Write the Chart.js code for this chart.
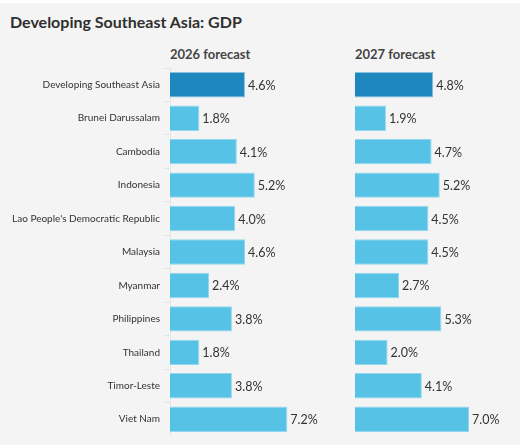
<!DOCTYPE html>
<html>
<head>
<meta charset="utf-8">
<script src="https://cdn.jsdelivr.net/npm/chart.js@4.4.1/dist/chart.umd.min.js"></script>
<style>
  html, body { margin: 0; padding: 0; }
  body { width: 520px; height: 445px; background: #f4f4f4; position: relative; overflow: hidden;
         font-family: Lato, "Open Sans", sans-serif; color: #2f2f2f; }
  #topStrip { position: absolute; left: 0; top: 0; width: 520px; height: 3px; background: #fff; }
  #title { position: absolute; left: 10px; top: 12px; font-size: 16px; font-weight: bold; white-space: nowrap; }
  .head { position: absolute; top: 46px; font-size: 13px; font-weight: bold; color: #444; white-space: nowrap; }
  canvas { position: absolute; top: 68px; }
</style>
</head>
<body>
<div id="topStrip"></div>
<div id="title">Developing Southeast Asia: GDP</div>
<div class="head" style="left:170px">2026 forecast</div>
<div class="head" style="left:355px">2027 forecast</div>
<canvas id="chart2026" width="345" height="368" style="left:0"></canvas>
<canvas id="chart2027" width="175" height="368" style="left:345px"></canvas>
<script>
const economies = [
    "Developing Southeast Asia", "Brunei Darussalam", "Cambodia", "Indonesia",
    "Lao People's Democratic Republic", "Malaysia", "Myanmar", "Philippines",
    "Thailand", "Timor-Leste", "Viet Nam"
];
const forecast2026 = [4.6, 1.8, 4.1, 5.2, 4.0, 4.6, 2.4, 3.8, 1.8, 3.8, 7.2];
const forecast2027 = [4.8, 1.9, 4.7, 5.2, 4.5, 4.5, 2.7, 5.3, 2.0, 4.1, 7.0];

const darkBlue = '#1e88be';
const lightBlue = '#55c2e6';
const barColors = economies.map((e, i) => i === 0 ? darkBlue : lightBlue);
const barBorders = economies.map((e, i) => i === 0 ? '#86c2e0' : '#93d6ee');

// draws "x.x%" just after the end of each bar
const valueLabels = {
    id: 'valueLabels',
    afterDatasetsDraw(chart) {
        const ctx = chart.ctx;
        const meta = chart.getDatasetMeta(0);
        const data = chart.data.datasets[0].data;
        ctx.save();
        ctx.font = '12.5px Lato, "Open Sans", sans-serif';
        ctx.fillStyle = '#333';
        ctx.textAlign = 'left';
        ctx.textBaseline = 'middle';
        meta.data.forEach((bar, i) => {
            ctx.fillText(data[i].toFixed(1) + '%', bar.x + 3, bar.y + 1);
        });
        ctx.restore();
    }
};

function makeChart(id, values, showLabels) {
    const ctx = document.getElementById(id).getContext('2d');
    return new Chart(ctx, {
        type: 'bar',
        data: {
            labels: economies,
            datasets: [{
                data: values,
                backgroundColor: barColors,
                borderColor: barBorders,
                borderWidth: 1,
                borderSkipped: 'left',
                barPercentage: 0.76,
                categoryPercentage: 1.0
            }]
        },
        options: {
            indexAxis: 'y',
            responsive: false,
            animation: false,
            layout: { padding: { left: showLabels ? 0 : 10, right: showLabels ? 12 : 2, top: 0, bottom: 0 } },
            plugins: { legend: { display: false }, tooltip: { enabled: false } },
            scales: {
                x: { min: 0, max: 10, display: false },
                y: {
                    display: showLabels,
                    afterFit(scale) {
                        if (showLabels) scale.width = 170;
                        scale.paddingTop = 0;
                        scale.paddingBottom = 0;
                    },
                    grid: {
                        drawOnChartArea: false,
                        drawTicks: true,
                        tickLength: 6,
                        color: '#e4e4e4'
                    },
                    border: { display: true, color: '#e6e6e6' },
                    ticks: {
                        padding: 4,
                        autoSkip: false,
                        color: '#333',
                        font: { family: 'Lato, "Open Sans", sans-serif', size: 10 }
                    }
                }
            }
        },
        plugins: [valueLabels]
    });
}

makeChart('chart2026', forecast2026, true);
makeChart('chart2027', forecast2027, false);
</script>
</body>
</html>
